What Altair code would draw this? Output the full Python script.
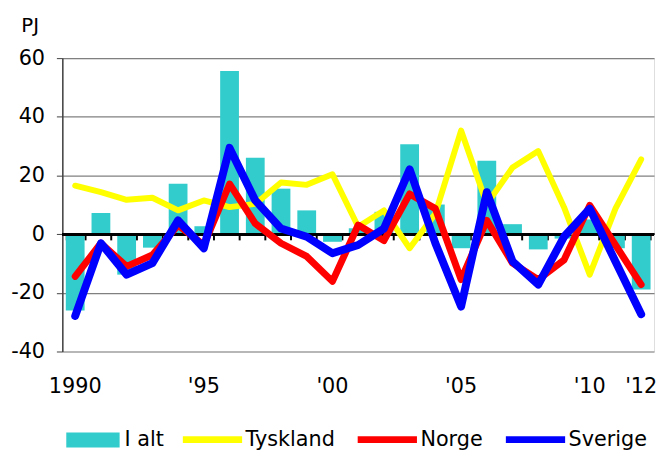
import altair as alt
import pandas as pd

years = [str(y) for y in range(1990, 2013)]
i_alt = [-26, 7.2, -13.8, -4.6, 17.2, 2.7, 55.6, 26, 15.5, 8.1, -2.6, 2, 7.6,
         30.6, 10.1, -4.8, 25, 3.4, -5.2, -1.5, 5, -4.8, -18.9]
tyskland = [16.5, 14.3, 11.7, 12.4, 8.1, 11.5, 9.2, 10.3, 17.6, 16.8, 20.4, 2.5,
            8.1, -4.8, 7, 35.3, 10.3, 22.7, 28.3, 9.2, -13.8, 8.7, 25.5]
norge = [-14.4, -3.1, -11, -7.1, 3, -3.7, 17.1, 3.6, -3.1, -7.6, -16.1, 3.1, -2.2,
         13.7, 8.7, -15.5, 4.7, -9.9, -15.5, -8.8, 9.8, -3.7, -17.2]
sverige = [-27.9, -3.1, -13.8, -9.9, 4.7, -4.8, 29.4, 11.5, 1.9, -0.9, -6.5, -3.7,
           1.9, 22.1, -3.1, -24.7, 14.3, -9.3, -17.2, -0.9, 8.7, -9.3, -27.3]
series_names = ["Tyskland", "Norge", "Sverige"]
series_colors = ["#FFFF00", "#FF0000", "#0000FF"]
series_widths = [6, 7, 8]
label_years = ["1990", "1995", "2000", "2005", "2010", "2012"]

bars_df = pd.DataFrame({"year": years, "value": i_alt, "serie": "I alt"})
lines_df = pd.concat([
    pd.DataFrame({"year": years, "value": vals, "serie": name})
    for name, vals in zip(series_names, [tyskland, norge, sverige])
])

FONT = "DejaVu Sans"

x_scale = alt.Scale(paddingInner=0.27, paddingOuter=0.135)
y_scale = alt.Scale(domain=[-40, 60], nice=False)

bars = alt.Chart(bars_df).mark_bar(color="#33CCCC").encode(
    x=alt.X("year:N", sort=years, scale=x_scale,
            axis=alt.Axis(title=None, labels=False, domain=False, ticks=True,
                          tickBand="extent", tickColor="#000000", tickSize=6,
                          tickWidth=2, offset=-119, grid=False, orient="bottom")),
    y=alt.Y("value:Q", scale=y_scale,
            axis=alt.Axis(title="PJ", titleAngle=0, titleAlign="left",
                          titleBaseline="alphabetic", titleX=-42, titleY=-27,
                          titleFont=FONT, titleFontSize=20, titleFontWeight="normal",
                          titleColor="#000000",
                          values=[-40, -20, 0, 20, 40, 60], grid=True,
                          gridColor="#808080", gridWidth=1.2,
                          domainColor="#404040", domainWidth=1.5,
                          tickColor="#404040", tickSize=6, labelPadding=12,
                          labelExpr="'' + datum.value",
                          labelFont=FONT, labelFontSize=21, labelColor="#000000")),
    fill=alt.Fill("serie:N", scale=alt.Scale(domain=["I alt"], range=["#33CCCC"]),
                  legend=alt.Legend(title=None, orient="none", legendX=4, legendY=359.5,
                                    direction="horizontal",
                                    symbolType="M-1,-0.28H1V0.28H-1Z",
                                    symbolSize=2916, symbolStrokeWidth=0,
                                    symbolOpacity=1, labelOffset=5,
                                    labelFont=FONT, labelFontSize=21,
                                    labelColor="#000000")),
)

zero = alt.Chart(bars_df).mark_rule(color="#000000", strokeWidth=2.5).encode(
    y=alt.datum(0, scale=y_scale)
)

label_axis = alt.Chart(bars_df).mark_point(opacity=0).encode(
    x=alt.X("year:N", sort=years,
            axis=alt.Axis(title=None, values=label_years, domain=False, ticks=False,
                          orient="bottom", labelAngle=0, labelPadding=25,
                          labelFont=FONT, labelFontSize=21, labelColor="#000000",
                          labelExpr="datum.value == '1990' ? '1990' : \"'\" + substring(datum.value, 2, 4)")),
    y=alt.Y("value:Q", scale=y_scale),
)

stroke_legend = alt.Legend(title=None, orient="none", legendX=118.5, legendY=352.5,
                           direction="horizontal", symbolType="stroke",
                           symbolSize=3600, symbolStrokeWidth=7,
                           columnPadding=8, labelOffset=0,
                           labelFont=FONT, labelFontSize=21, labelColor="#000000")

line_layers = []
for name, width in zip(series_names, series_widths):
    line_layers.append(
        alt.Chart(lines_df).transform_filter(alt.datum.serie == name)
        .mark_line(strokeJoin="round", strokeCap="round", strokeWidth=width)
        .encode(
            x=alt.X("year:N", sort=years, axis=None),
            y=alt.Y("value:Q", scale=y_scale),
            stroke=alt.Stroke("serie:N",
                              scale=alt.Scale(domain=series_names, range=series_colors),
                              legend=stroke_legend),
        )
    )

chart = alt.layer(bars, zero, label_axis, *line_layers).resolve_axis(
    x="independent"
).properties(
    width=599, height=297,
    autosize=alt.AutoSizeParams(type="none"),
    padding={"left": 55, "top": 48, "right": 3, "bottom": 99},
).configure_view(stroke=None).configure(font=FONT)

chart.save("out.html", embed_options={"renderer": "svg", "actions": False})
